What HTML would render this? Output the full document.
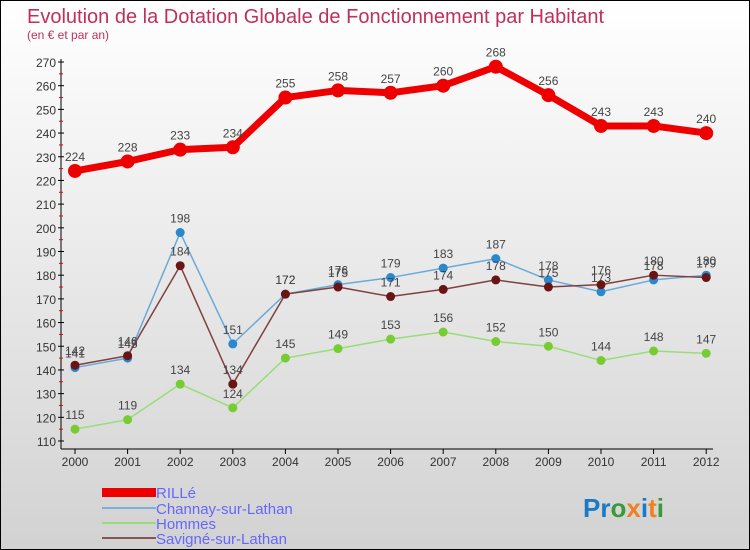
<!DOCTYPE html>
<html><head><meta charset="utf-8"><style>
body{margin:0;}
#c{width:748px;height:548px;border:1px solid #000;background:linear-gradient(#ffffff,#d2d2d2);position:relative;overflow:hidden;font-family:"Liberation Sans",sans-serif;}
svg text{font-family:"Liberation Sans",sans-serif;}
</style></head><body>
<div id="c">
<svg id="s" width="748" height="548">
<text x="26" y="22" font-size="20" fill="#c0305a">Evolution de la Dotation Globale de Fonctionnement par Habitant</text>
<text x="26" y="38" font-size="12" fill="#c0305a">(en € et par an)</text>
<g id="axes"></g><g id="series"></g>
<g>
<rect x="101" y="487" width="54" height="9" fill="#ee0000"/>
<text x="155" y="497" font-size="15" fill="#6666ff">RILLé</text>
<rect x="101" y="506" width="54" height="2" fill="#7ab0d8"/>
<text x="155" y="513" font-size="15" fill="#6666ff">Channay-sur-Lathan</text>
<rect x="101" y="521" width="54" height="2" fill="#99dd77"/>
<text x="155" y="528" font-size="15" fill="#6666ff">Hommes</text>
<rect x="101" y="536" width="54" height="2" fill="#885555"/>
<text x="155" y="543" font-size="15" fill="#6666ff">Savigné-sur-Lathan</text>
</g>
<text x="582" y="516" font-size="26" font-weight="bold"><tspan fill="#1a7ac8">Pr</tspan><tspan fill="#3a9a3a">o</tspan><tspan fill="#f08020">x</tspan><tspan fill="#1a7ac8">i</tspan><tspan fill="#f08020">t</tspan><tspan fill="#3a9a3a">i</tspan></text>
</svg></div>
<script>
const years=[2000,2001,2002,2003,2004,2005,2006,2007,2008,2009,2010,2011,2012];
const rille=[224,228,233,234,255,258,257,260,268,256,243,243,240];
const channay=[141,145,198,151,172,176,179,183,187,178,173,178,180];
const hommes=[115,119,134,124,145,149,153,156,152,150,144,148,147];
const savigne=[142,146,184,134,172,175,171,174,178,175,176,180,179];
const yTicks=[110,120,130,140,150,160,170,180,190,200,210,220,230,240,250,260,270];
const NS="http://www.w3.org/2000/svg";
const X=i=>74+i*52.6;
const Y=v=>440-(v-110)*(379/160);
function mk(t,a,p){const e=document.createElementNS(NS,t);for(const k in a)e.setAttribute(k,a[k]);p.appendChild(e);return e;}
const ax=document.getElementById('axes');
let e=mk('line',{x1:60,y1:58,x2:60,y2:448,stroke:'#000'},ax);


e=mk('line',{x1:60,y1:448,x2:712,y2:448,stroke:'#000'},ax);


yTicks.forEach(v=>{
 mk('line',{x1:57,y1:Y(v),x2:63,y2:Y(v),stroke:'#000'},ax);
 mk('line',{x1:58,y1:Y(v+5),x2:62,y2:Y(v+5),stroke:v<270?'#e00':'none'},ax);
 const t=mk('text',{x:55,y:Y(v)+5,'font-size':12,fill:'#333','text-anchor':'end'},ax);t.textContent=v;
 
 
});
years.forEach((y,i)=>{
 mk('line',{x1:X(i),y1:448,x2:X(i),y2:453,stroke:'#000'},ax);
 const t=mk('text',{x:X(i),y:465,'font-size':12,fill:'#333','text-anchor':'middle'},ax);t.textContent=y;
 
 
});
const sg=document.getElementById('series');
function draw(name,vals,color,w,r,fill){
 const g=mk('g',{},sg);
 
 
 const p=mk('polyline',{points:vals.map((v,i)=>X(i)+','+Y(v)).join(' '),fill:'none',stroke:color,'stroke-width':w,'stroke-linejoin':'round'},g);
 
 
 vals.forEach((v,i)=>{
  const c=mk('circle',{cx:X(i),cy:Y(v),r:r,fill:fill},g);
  
  
  const t=mk('text',{x:X(i),y:Y(v)-10,'font-size':12,fill:'#444','text-anchor':'middle'},g);t.textContent=v;
  
  
 });
}
draw('hommes',hommes,'#99dd77',1.5,4.5,'#77cc33');
draw('channay',channay,'#6aaad8',1.5,4.5,'#2a88cc');
draw('savigne',savigne,'#804040',1.5,4.5,'#6a1515');
draw('rille',rille,'#ee0000',7,7,'#ee0000');
</script>
</body></html>
